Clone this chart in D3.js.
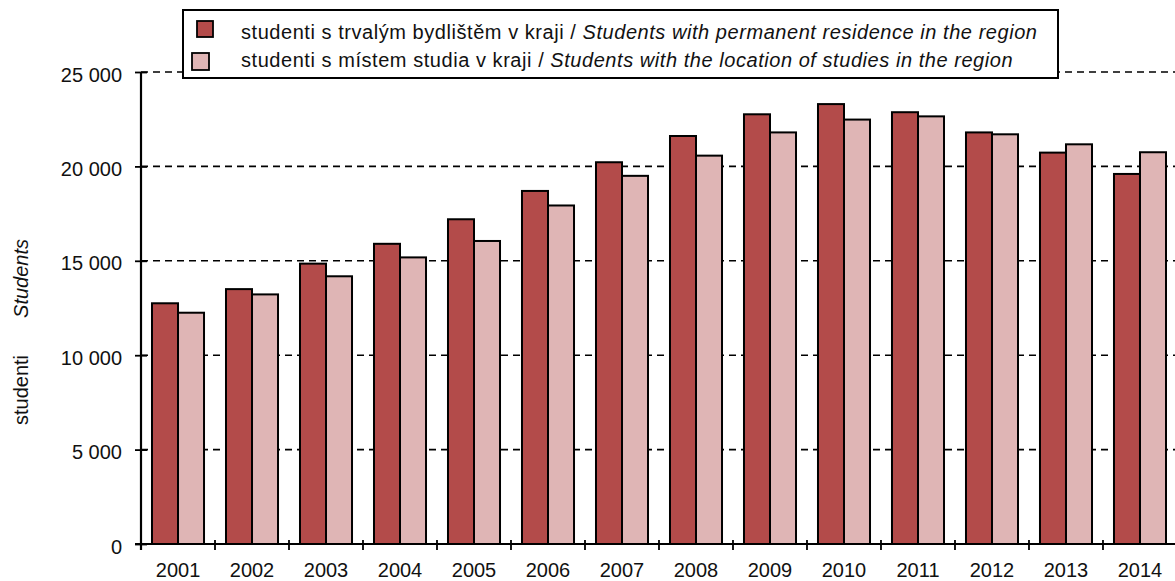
<!DOCTYPE html>
<html>
<head>
<meta charset="utf-8">
<script src="https://cdn.jsdelivr.net/npm/d3@7"></script>
<style>
  body { margin: 0; background: #fff; }
  svg { display: block; font-family: "Liberation Sans", Arial, sans-serif; }
</style>
</head>
<body>
<svg id="chart" width="1175" height="581"></svg>
<script>
// values
const years = ["2001", "2002", "2003", "2004", "2005", "2006", "2007",
               "2008", "2009", "2010", "2011", "2012", "2013", "2014"];
const residence = [12750, 13500, 14850, 15900, 17200, 18700, 20220,
                   21610, 22760, 23300, 22870, 21800, 20730, 19600];
const studyPlace = [12250, 13220, 14180, 15180, 16050, 17930, 19500,
                    20570, 21800, 22480, 22650, 21700, 21170, 20750];
const yTicks = [0, 5000, 10000, 15000, 20000, 25000];
const seriesNames = [
  ["studenti s trvalým bydlištěm v kraji / ", "Students with permanent residence in the region"],
  ["studenti s místem studia v kraji / ", "Students with the location of studies in the region"]
];
const colors = ["#b34b4a", "#dfb5b5"];

const svg = d3.select("#chart");

// plot frame
const plotLeft = 141, plotTop = 72, plotBottom = 544;
const step = 74;
const plotRight = plotLeft + years.length * step;

const y = d3.scaleLinear().domain([0, 25000]).range([plotBottom, plotTop]);
const x = d3.scaleBand().domain(years).range([plotLeft, plotRight])
    .paddingInner(0.297).paddingOuter(0.1486);
const x1 = d3.scaleBand().domain([0, 1]).range([0, x.bandwidth()]);

// dashed gridlines (behind bars)
svg.append("g").selectAll("line")
  .data(yTicks.filter(d => d > 0))
  .join("line")
    .attr("x1", plotLeft).attr("x2", 1175)
    .attr("y1", d => y(d)).attr("y2", d => y(d))
    .attr("stroke", "#000")
    .attr("stroke-width", 1.6)
    .attr("stroke-dasharray", "7,5");

// bars
const rows = years.map((yr, i) => ({ yr, vals: [residence[i], studyPlace[i]] }));
svg.append("g").selectAll("g")
  .data(rows)
  .join("g")
    .attr("transform", d => "translate(" + x(d.yr) + ",0)")
  .selectAll("rect")
  .data(d => d.vals.map((v, k) => ({ v, k })))
  .join("rect")
    .attr("x", d => x1(d.k))
    .attr("width", x1.bandwidth())
    .attr("y", d => y(d.v))
    .attr("height", d => y(0) - y(d.v))
    .attr("fill", d => colors[d.k])
    .attr("stroke", "#000")
    .attr("stroke-width", 2);

// y axis
const yAxis = svg.append("g")
  .attr("transform", "translate(" + plotLeft + ",0)")
  .call(d3.axisLeft(y).tickValues(yTicks).tickSize(6).tickSizeOuter(0)
        .tickFormat(d => d3.format(",")(d).replace(",", " ")));
yAxis.select(".domain").remove();
yAxis.selectAll(".tick line").attr("x1", -6).attr("x2", 6)
  .attr("stroke", "#000").attr("stroke-width", 1.8);
yAxis.selectAll(".tick text")
  .attr("x", -19).attr("dy", "0.45em")
  .attr("font-size", 20).attr("fill", "#111")
  .attr("font-family", "Liberation Sans, Arial, sans-serif");
svg.append("line")
  .attr("x1", plotLeft).attr("x2", plotLeft).attr("y1", plotTop).attr("y2", plotBottom + 6)
  .attr("stroke", "#000").attr("stroke-width", 2.2);

// x axis
const xAxis = svg.append("g")
  .attr("transform", "translate(0," + plotBottom + ")")
  .call(d3.axisBottom(x).tickSize(0).tickSizeOuter(0));
xAxis.select(".domain").remove();
xAxis.selectAll(".tick text")
  .attr("y", 33).attr("dy", 0)
  .attr("font-size", 20).attr("fill", "#111")
  .attr("font-family", "Liberation Sans, Arial, sans-serif");
svg.append("line")
  .attr("x1", plotLeft - 6).attr("x2", 1175).attr("y1", plotBottom).attr("y2", plotBottom)
  .attr("stroke", "#000").attr("stroke-width", 2.2);
svg.append("g").selectAll("line")
  .data(d3.range(1, years.length))
  .join("line")
    .attr("x1", i => x.step() * i + plotLeft).attr("x2", i => x.step() * i + plotLeft)
    .attr("y1", plotBottom - 4).attr("y2", plotBottom + 6)
    .attr("stroke", "#000").attr("stroke-width", 1.8);

// y title
const yt = svg.append("text")
  .attr("transform", "translate(28,425) rotate(-90)")
  .attr("font-size", 20).attr("fill", "#111");
yt.append("tspan").text("studenti");
yt.append("tspan").attr("dx", 37).attr("font-style", "italic").text("Students");

// legend
const lg = svg.append("g");
lg.append("rect")
  .attr("x", 183).attr("y", 10).attr("width", 875).attr("height", 68)
  .attr("fill", "#fff").attr("stroke", "#000").attr("stroke-width", 2);
const swatches = [[197, 21, 16, 16], [192, 53, 17, 17]];
seriesNames.forEach((nm, k) => {
  const s = swatches[k];
  lg.append("rect")
    .attr("x", s[0]).attr("y", s[1]).attr("width", s[2]).attr("height", s[3])
    .attr("fill", colors[k]).attr("stroke", "#000").attr("stroke-width", 1.8);
  const t = lg.append("text")
    .attr("x", 241).attr("y", 39 + k * 27.5)
    .attr("font-size", 20).attr("letter-spacing", 0.55).attr("fill", "#111");
  t.append("tspan").text(nm[0]);
  t.append("tspan").attr("font-style", "italic").text(nm[1]);
});
</script>
</body>
</html>
